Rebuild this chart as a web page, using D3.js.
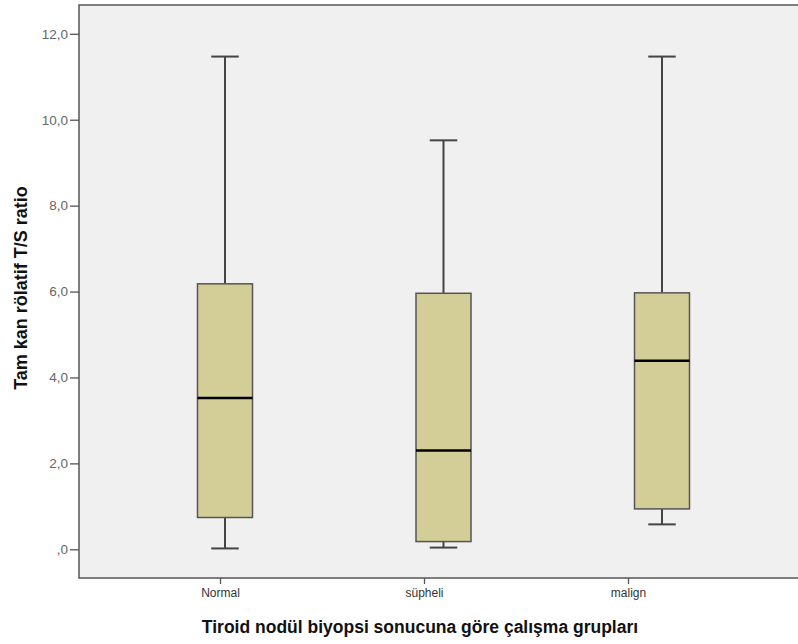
<!DOCTYPE html>
<html>
<head>
<meta charset="utf-8">
<script src="https://cdn.jsdelivr.net/npm/d3@7"></script>
<style>
  body { margin: 0; background: #fff; }
  #plot { width: 798px; height: 644px; }
  text { font-family: "Liberation Sans", Arial, sans-serif; }
</style>
</head>
<body>
<div id="plot"></div>
<script>
var w = 798,
    h = 644;

// groups and box stats
var groups = ['Normal', 'süpheli', 'malign'];
var whiskerLow = [0.02, 0.04, 0.58];
var q1 = [0.74, 0.18, 0.94];
var median = [3.52, 2.30, 4.39];
var q3 = [6.18, 5.96, 5.97];
var whiskerHigh = [11.47, 9.52, 11.47];
var yTicks = [0, 2, 4, 6, 8, 10, 12];

var boxes = groups.map(function(g, i){
    return {g: g, lo: whiskerLow[i], q1: q1[i], med: median[i], q3: q3[i], hi: whiskerHigh[i]};
});

var svg = d3.select('#plot').append('svg')
    .attr('width', w)
    .attr('height', h);

var pLeft = 79, pTop = 5, pBottom = 578, pRight = 800;

var y = d3.scaleLinear()
    .domain([0, 12])
    .range([549.3, 33.8]);

// boxes and tick labels don't line up in the original, so two scales
var xBox = d3.scalePoint().domain(groups).range([225, 662]);
var xTick = d3.scalePoint().domain(groups).range([220, 628]);

var boxW = 55;

svg.append('rect')
    .attr('x', pLeft).attr('y', pTop)
    .attr('width', pRight - pLeft).attr('height', pBottom - pTop)
    .style('fill', '#f0f0f0')
    .style('stroke', '#555')
    .style('stroke-width', 1.5);

// y axis
var yAxis = svg.append('g')
    .attr('transform', 'translate(' + pLeft + ',0)')
    .call(d3.axisLeft(y).tickValues(yTicks).tickSize(9).tickPadding(2)
        .tickFormat(function(d){ return d === 0 ? ',0' : d3.format('.1f')(d).replace('.', ','); }));
yAxis.select('.domain').remove();
yAxis.selectAll('line').style('stroke', '#555').style('stroke-width', 1.3);
yAxis.selectAll('text').style('font-size', '13.5px').style('fill', '#666')
    .style('font-family', '"Liberation Sans", Arial, sans-serif');

// x axis
var xAxis = svg.append('g')
    .attr('transform', 'translate(0,' + pBottom + ')')
    .call(d3.axisBottom(xTick).tickSize(6).tickPadding(4));
xAxis.select('.domain').remove();
xAxis.selectAll('line').style('stroke', '#555').style('stroke-width', 1.3);
xAxis.selectAll('text').style('font-size', '12px').style('fill', '#333')
    .style('font-family', '"Liberation Sans", Arial, sans-serif');

var box = svg.append('g').selectAll('.box')
    .data(boxes)
    .enter()
    .append('g')
    .attr('class', 'box');

// whiskers
box.append('line')
    .attr('x1', function(d){ return xBox(d.g); })
    .attr('x2', function(d){ return xBox(d.g); })
    .attr('y1', function(d){ return y(d.hi); })
    .attr('y2', function(d){ return y(d.q3); })
    .style('stroke', '#444').style('stroke-width', 2);
box.append('line')
    .attr('x1', function(d){ return xBox(d.g); })
    .attr('x2', function(d){ return xBox(d.g); })
    .attr('y1', function(d){ return y(d.q1); })
    .attr('y2', function(d){ return y(d.lo); })
    .style('stroke', '#444').style('stroke-width', 2);
box.selectAll('.cap')
    .data(function(d){ return [{g: d.g, v: d.hi}, {g: d.g, v: d.lo}]; })
    .enter()
    .append('line')
    .attr('class', 'cap')
    .attr('x1', function(d){ return xBox(d.g) - boxW / 4; })
    .attr('x2', function(d){ return xBox(d.g) + boxW / 4; })
    .attr('y1', function(d){ return y(d.v); })
    .attr('y2', function(d){ return y(d.v); })
    .style('stroke', '#444').style('stroke-width', 2);

box.append('rect')
    .attr('x', function(d){ return xBox(d.g) - boxW / 2; })
    .attr('y', function(d){ return y(d.q3); })
    .attr('width', boxW)
    .attr('height', function(d){ return y(d.q1) - y(d.q3); })
    .style('fill', '#d3ce98')
    .style('stroke', '#555')
    .style('stroke-width', 1.5);

box.append('line')
    .attr('x1', function(d){ return xBox(d.g) - boxW / 2; })
    .attr('x2', function(d){ return xBox(d.g) + boxW / 2; })
    .attr('y1', function(d){ return y(d.med); })
    .attr('y2', function(d){ return y(d.med); })
    .style('stroke', '#000').style('stroke-width', 2.5);

// titles
svg.append('text')
    .attr('x', 420).attr('y', 633)
    .attr('text-anchor', 'middle')
    .style('font-size', '17.5px').style('font-weight', 'bold').style('fill', '#111')
    .text('Tiroid nodül biyopsi sonucuna göre çalışma grupları');

svg.append('text')
    .attr('transform', 'translate(27,288) rotate(-90)')
    .attr('text-anchor', 'middle')
    .style('font-size', '18px').style('font-weight', 'bold').style('fill', '#111')
    .text('Tam kan rölatif T/S ratio');
</script>
</body>
</html>
